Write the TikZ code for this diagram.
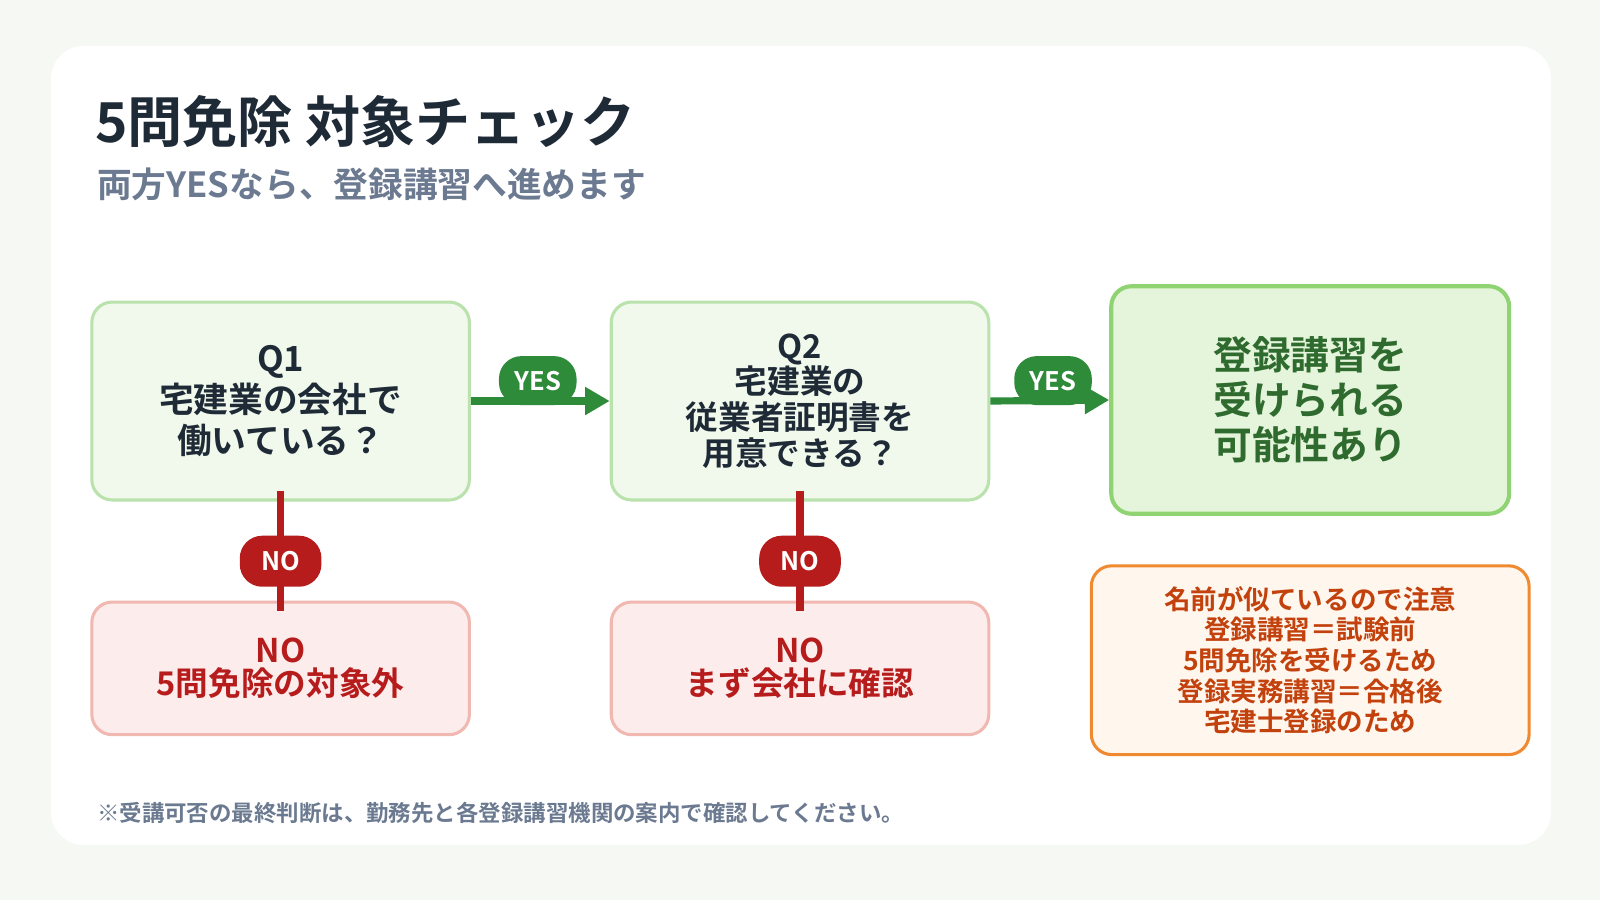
\documentclass[tikz,border=0pt]{standalone}
\usepackage{fontspec}
\setmainfont{Noto Sans CJK JP}[BoldFont={* Bold}]
\usetikzlibrary{arrows.meta}
\definecolor{bgc}{HTML}{F6F8F3}
\definecolor{titc}{HTML}{1F2A37}
\definecolor{subc}{HTML}{6B7A90}
\definecolor{qfill}{HTML}{F1F9EC}
\definecolor{qline}{HTML}{B9E2AD}
\definecolor{rfill}{HTML}{E5F5DB}
\definecolor{rline}{HTML}{8FD373}
\definecolor{rtext}{HTML}{2F6B2F}
\definecolor{gr}{HTML}{2E8B3A}
\definecolor{nfill}{HTML}{FDECEC}
\definecolor{nline}{HTML}{F0B8B0}
\definecolor{rd}{HTML}{B71C1C}
\definecolor{ofill}{HTML}{FFF7EE}
\definecolor{oline}{HTML}{F08A30}
\definecolor{otext}{HTML}{C2410C}
\begin{document}
\begin{tikzpicture}[x=1pt,y=-1pt,
  box/.style={draw,rounded corners=20pt,line width=3pt,align=center,font=\bfseries},
  pill/.style={rounded corners=22pt,minimum width=76pt,minimum height=48pt,inner sep=0pt,text=white,font=\fontsize{25}{25}\selectfont\bfseries},
]
\useasboundingbox (0,0) rectangle (1568,882);
\fill[bgc] (0,0) rectangle (1568,882);
\fill[white,rounded corners=32pt] (50,45) rectangle (1520,828);
\node[anchor=base west,text=titc,font=\fontsize{54}{54}\selectfont\bfseries,inner sep=0] (title) at (93,140) {5問免除 対象チェック};
\node[anchor=base west,text=subc,font=\fontsize{34}{34}\selectfont\bfseries,inner sep=0] (sub) at (95,194) {両方YESなら、登録講習へ進めます};
\node[box,fill=qfill,draw=qline,minimum width=370pt,minimum height=194pt,text=titc,font=\fontsize{34}{40}\selectfont\bfseries] (q1) at (275,393) {Q1\\宅建業の会社で\\働いている？};
\node[box,fill=qfill,draw=qline,minimum width=370pt,minimum height=194pt,text=titc,font=\fontsize{32}{35}\selectfont\bfseries] (q2) at (784,393) {Q2\\宅建業の\\従業者証明書を\\用意できる？};
\node[box,fill=rfill,draw=rline,line width=4pt,minimum width=390pt,minimum height=223pt,text=rtext,font=\fontsize{38}{44}\selectfont\bfseries] (r) at (1284,392) {登録講習を\\受けられる\\可能性あり};
\node[box,fill=nfill,draw=nline,minimum width=370pt,minimum height=130pt,text=rd,font=\fontsize{32}{32}\selectfont\bfseries] (n1) at (275,655) {NO\\5問免除の対象外};
\node[box,fill=nfill,draw=nline,minimum width=370pt,minimum height=130pt,text=rd,font=\fontsize{32}{32}\selectfont\bfseries] (n2) at (784,655) {NO\\まず会社に確認};
\node[box,fill=ofill,draw=oline,minimum width=429pt,minimum height=185pt,text=otext,font=\fontsize{26}{30}\selectfont\bfseries] (note) at (1284,647) {名前が似ているので注意\\登録講習＝試験前\\5問免除を受けるため\\登録実務講習＝合格後\\宅建士登録のため};
\draw[gr,line width=7pt,-{Triangle[length=24pt,width=26pt]}] (q1.east) -- (q2.west);
\draw[gr,line width=7pt,-{Triangle[length=24pt,width=26pt]}] (q2.east) -- (r.west);
\node[pill,fill=gr] (y1) at (527,373) {YES};
\node[pill,fill=gr] (y2) at (1032,373) {YES};
\draw[rd,line width=7pt] ([yshift=10pt]q1.south) -- ([yshift=-10pt]n1.north);
\draw[rd,line width=7pt] ([yshift=10pt]q2.south) -- ([yshift=-10pt]n2.north);
\node[pill,fill=rd,minimum width=80pt,minimum height=50pt] (no1) at (275,550) {NO};
\node[pill,fill=rd,minimum width=80pt,minimum height=50pt] (no2) at (784,550) {NO};
\draw[rd,line width=7pt] (275,570) -- (275,578);
\draw[rd,line width=7pt] (784,570) -- (784,578);
\node[anchor=base west,text=subc,font=\fontsize{22}{22}\selectfont\bfseries,inner sep=0] (foot) at (95,805) {※受講可否の最終判断は、勤務先と各登録講習機関の案内で確認してください。};
\end{tikzpicture}
\end{document}
